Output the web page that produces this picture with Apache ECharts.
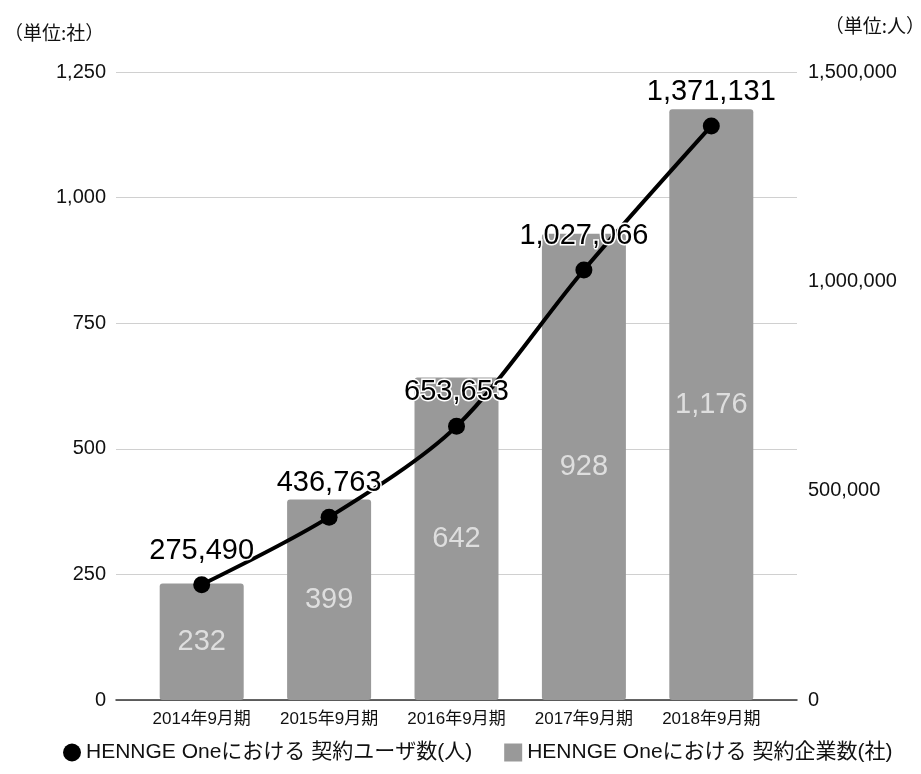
<!DOCTYPE html>
<html>
<head>
<meta charset="utf-8">
<script src="https://cdn.jsdelivr.net/npm/echarts@6/dist/echarts.min.js"></script>
<style>
  html, body { margin: 0; padding: 0; background: #fff; }
  #chart { width: 921px; height: 774px; }
</style>
</head>
<body>
<div id="chart"></div>
<script>
// Fiscal periods
const periods = ['2014年9月期', '2015年9月期', '2016年9月期', '2017年9月期', '2018年9月期'];
// Contracted companies (社)
const companies = [232, 399, 642, 928, 1176];
// Contracted users (人)
const users = [275490, 436763, 653653, 1027066, 1371131];

const companyName = 'HENNGE Oneにおける 契約企業数(社)';
const userName = 'HENNGE Oneにおける 契約ユーザ数(人)';

const latin = '"Liberation Sans", Arial, "Noto Sans CJK JP", sans-serif';
const fmt = v => v.toLocaleString('en-US');

const chart = echarts.init(document.getElementById('chart'));
chart.setOption({
  backgroundColor: '#fff',
  textStyle: { fontFamily: latin },
  graphic: [
    { type: 'text', left: 4, top: 23, style: { text: '（単位:社）', font: '19px "Noto Sans CJK JP", sans-serif', fill: '#111' } },
    { type: 'text', right: -4, top: 16, style: { text: '（単位:人）', font: '19px "Noto Sans CJK JP", sans-serif', fill: '#111' } }
  ],
  legend: {
    bottom: 6,
    left: 58,
    itemGap: 32,
    itemWidth: 18,
    itemHeight: 18,
    textStyle: { fontSize: 21, color: '#111', fontFamily: latin },
    data: [
      { name: userName, icon: 'circle', itemStyle: { color: '#000' } },
      { name: companyName, icon: 'rect', itemStyle: { color: '#999' } }
    ]
  },
  grid: [
    // wide grid carrying the gridlines and value axes
    { left: 116, right: 124, top: 72, bottom: 74 },
    // inner grid holding the categories and marks
    { left: 138, right: 146, top: 72, bottom: 74 }
  ],
  xAxis: [
    { type: 'value', gridIndex: 0, min: 0, max: 1, show: true,
      axisLine: { show: true, lineStyle: { color: '#333', width: 1.5 } },
      axisTick: { show: false }, axisLabel: { show: false }, splitLine: { show: false } },
    { type: 'category', gridIndex: 1, data: periods,
      axisLine: { show: false }, axisTick: { show: false },
      axisLabel: { interval: 0, fontSize: 17, color: '#111', margin: 11, fontFamily: latin } }
  ],
  yAxis: [
    { type: 'value', gridIndex: 0, min: 0, max: 1250, interval: 250,
      axisLine: { show: false }, axisTick: { show: false },
      axisLabel: { fontSize: 20, color: '#111', margin: 10, formatter: fmt },
      splitLine: { lineStyle: { color: '#d0d0d0', width: 1.2 } } },
    { type: 'value', gridIndex: 0, min: 0, max: 1500000, interval: 500000, position: 'right',
      axisLine: { show: false }, axisTick: { show: false },
      axisLabel: { fontSize: 20, color: '#111', margin: 11, formatter: fmt },
      splitLine: { show: false } },
    { type: 'value', gridIndex: 1, min: 0, max: 1250, show: false },
    { type: 'value', gridIndex: 1, min: 0, max: 1500000, show: false }
  ],
  series: [
    {
      name: companyName,
      type: 'bar',
      xAxisIndex: 1,
      yAxisIndex: 2,
      data: companies,
      barWidth: 84,
      itemStyle: { color: '#999', borderRadius: 3 },
      label: { show: true, position: 'inside', fontSize: 29, color: '#dedede', formatter: p => fmt(p.value) },
      z: 2
    },
    {
      name: userName,
      type: 'line',
      xAxisIndex: 1,
      yAxisIndex: 3,
      data: users,
      smooth: 0.3,
      symbol: 'circle',
      symbolSize: 17,
      lineStyle: { color: '#000', width: 4 },
      itemStyle: { color: '#000' },
      label: {
        show: true, position: 'top', distance: 11, fontSize: 29, color: '#000',
        textBorderColor: '#fff', textBorderWidth: 3,
        formatter: p => fmt(p.value)
      },
      z: 5
    }
  ]
});
</script>
</body>
</html>
